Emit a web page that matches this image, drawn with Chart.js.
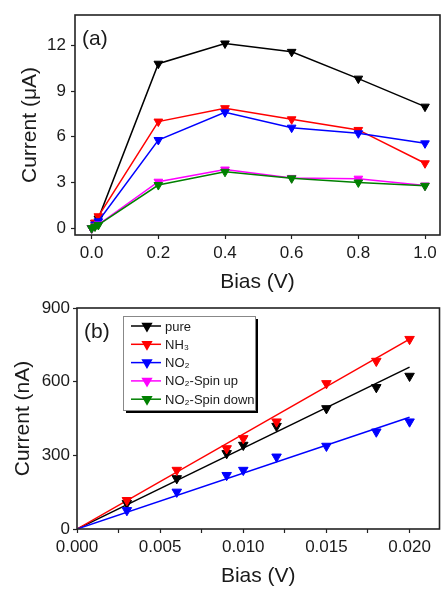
<!DOCTYPE html>
<html>
<head>
<meta charset="utf-8">
<script src="https://cdn.jsdelivr.net/npm/chart.js@4.4.0/dist/chart.umd.min.js"></script>
<style>
  html, body { margin: 0; padding: 0; background: #fff; }
  #wrap { position: relative; width: 442px; height: 590px; overflow: hidden; }
  #chartA { position: absolute; left: 0; top: 0; width: 446px; height: 300px; }
  #chartB { position: absolute; left: 0; top: 290px; width: 446px; height: 300px; }
</style>
</head>
<body>
<div id="wrap">
  <canvas id="chartA" width="446" height="300"></canvas>
  <canvas id="chartB" width="446" height="300"></canvas>
</div>
<script>
// Panel (a): current (uA) vs bias (V)
var biasA = [0, 0.01, 0.02, 0.2, 0.4, 0.6, 0.8, 1.0];
var pureA = [0, 0.34, 0.63, 10.8, 12.13, 11.58, 9.82, 7.98];
var nh3A = [0, 0.37, 0.78, 7.0, 7.88, 7.15, 6.45, 4.26];
var no2A = [0, 0.24, 0.45, 5.79, 7.61, 6.6, 6.23, 5.57];
var upA = [0, 0.13, 0.24, 3.05, 3.85, 3.3, 3.25, 2.8];
var downA = [0, 0.11, 0.21, 2.83, 3.7, 3.27, 3.0, 2.78];
var xTicksA = [0, 0.2, 0.4, 0.6, 0.8, 1.0];
var yTicksA = [0, 3, 6, 9, 12];

// Panel (b): current (nA) vs bias (V), points + linear fits
var biasB = [0.003, 0.006, 0.009, 0.010, 0.012, 0.015, 0.018, 0.020];
var pureB = [105, 206, 308, 342, 419, 491, 577, 623];
var nh3B = [117, 240, 328, 369, 437, 593, 684, 773];
var no2B = [76, 151, 219, 240, 294, 338, 396, 437];
var fitBias = [0, 0.02];
var pureFit = [0, 659];
var nh3Fit = [0, 773];
var no2Fit = [0, 455];
var xTicksB = [0, 0.0025, 0.005, 0.0075, 0.01, 0.0125, 0.015, 0.0175, 0.02];
var yTicksB = [0, 300, 600, 900];

var names = ['pure', 'NH\u2083', 'NO\u2082', 'NO\u2082-Spin up', 'NO\u2082-Spin down'];
var colors = ['#000000', '#ff0000', '#0000ff', '#ff00ff', '#008000'];

var FONT = "'Liberation Sans', Arial, sans-serif";
var TEXT = '#1a1a1a';

function pts(xs, ys) {
  return xs.map(function (x, i) { return { x: x, y: ys[i] }; });
}

function setTicks(values) {
  return function (scale) {
    scale.ticks = values.map(function (v) { return { value: v }; });
  };
}

// plot frame + panel letter
function framePlugin(letter) {
  return {
    id: 'frame',
    afterDraw: function (chart) {
      var a = chart.chartArea;
      var ctx = chart.ctx;
      ctx.save();
      ctx.strokeStyle = '#222';
      ctx.lineWidth = 1.6;
      ctx.strokeRect(a.left, a.top, a.right - a.left, a.bottom - a.top);
      ctx.fillStyle = TEXT;
      ctx.font = '21px ' + FONT;
      ctx.textBaseline = 'middle';
      ctx.textAlign = 'left';
      ctx.fillText(letter, a.left + 7, a.top + 24);
      ctx.restore();
    }
  };
}

function axisX(min, max, ticks, labelFn, titlePad, height) {
  return {
    type: 'linear',
    min: min,
    max: max,
    afterBuildTicks: setTicks(ticks),
    afterFit: function (s) {
      s.height = height;
      s.paddingLeft = 0;
      s.paddingRight = 0;
    },
    border: { display: false },
    grid: { drawOnChartArea: false, drawTicks: true, tickLength: 4, tickColor: '#222', tickWidth: 1.2 },
    ticks: { color: TEXT, font: { family: FONT, size: 17 }, padding: 4, maxRotation: 0, autoSkip: false, callback: labelFn },
    title: { display: true, text: 'Bias (V)', color: TEXT, font: { family: FONT, size: 21 }, padding: { top: 0, bottom: titlePad } }
  };
}

function axisY(min, max, ticks, title, titlePad, width, tickPad) {
  return {
    type: 'linear',
    min: min,
    max: max,
    afterBuildTicks: setTicks(ticks),
    afterFit: function (s) {
      s.width = width;
      s.paddingTop = 0;
      s.paddingBottom = 0;
    },
    border: { display: false },
    grid: { drawOnChartArea: false, drawTicks: true, tickLength: 4, tickColor: '#222', tickWidth: 1.2 },
    ticks: { color: TEXT, font: { family: FONT, size: 17 }, padding: tickPad },
    title: { display: true, text: title, color: TEXT, font: { family: FONT, size: 21 }, padding: { top: titlePad, bottom: 0 } }
  };
}

// ---- Panel (a)
var seriesA = [pureA, nh3A, no2A, upA, downA];
var dsA = seriesA.map(function (ys, i) {
  return {
    label: names[i],
    data: pts(biasA, ys),
    showLine: true,
    borderColor: colors[i],
    backgroundColor: colors[i],
    borderWidth: 1.5,
    pointStyle: 'triangle',
    rotation: 180,
    pointRadius: 5,
    pointBorderWidth: 1,
    order: 5 - i
  };
});

new Chart(document.getElementById('chartA'), {
  type: 'scatter',
  data: { datasets: dsA },
  options: {
    responsive: false,
    animation: false,
    layout: { padding: { top: 15, right: 1, left: 0, bottom: 0 } },
    plugins: { legend: { display: false }, tooltip: { enabled: false } },
    scales: {
      x: axisX(-0.05, 1.045, xTicksA, function (v) { return v.toFixed(1); }, 5, 65),
      y: axisY(-0.45, 14, yTicksA, 'Current (\u03bcA)', 18, 75, 5)
    }
  },
  plugins: [framePlugin('(a)')]
});

// ---- Panel (b)
var seriesB = [pureB, nh3B, no2B];
var fitsB = [pureFit, nh3Fit, no2Fit];
var dsB = [];
seriesB.forEach(function (ys, i) {
  dsB.push({
    label: names[i] + ' fit',
    data: pts(fitBias, fitsB[i]),
    showLine: true,
    borderColor: colors[i],
    borderWidth: 1.5,
    pointRadius: 0,
    order: 6 - i
  });
  dsB.push({
    label: names[i],
    data: pts(biasB, ys),
    showLine: false,
    borderColor: colors[i],
    backgroundColor: colors[i],
    pointStyle: 'triangle',
    rotation: 180,
    pointRadius: 5.5,
    pointBorderWidth: 1,
    order: 3 - i
  });
});

var legendPlugin = {
  id: 'boxLegend',
  afterDraw: function (chart) {
    var ctx = chart.ctx;
    var x = 123, y = 26, w = 132, h = 94;
    ctx.save();
    ctx.fillStyle = '#000';
    ctx.fillRect(x + 3, y + 3, w, h);
    ctx.fillStyle = '#fff';
    ctx.fillRect(x, y, w, h);
    ctx.strokeStyle = '#888';
    ctx.lineWidth = 1;
    ctx.strokeRect(x + 0.5, y + 0.5, w, h);
    ctx.font = '13px ' + FONT;
    ctx.textBaseline = 'middle';
    ctx.textAlign = 'left';
    names.forEach(function (n, i) {
      var ry = y + 10 + i * 18.3;
      ctx.strokeStyle = colors[i];
      ctx.fillStyle = colors[i];
      ctx.lineWidth = 1.5;
      ctx.beginPath();
      ctx.moveTo(x + 8, ry);
      ctx.lineTo(x + 38, ry);
      ctx.stroke();
      Chart.helpers.drawPoint(ctx, { pointStyle: 'triangle', rotation: 180, radius: 5, borderWidth: 1 }, x + 24, ry);
      ctx.fillStyle = TEXT;
      ctx.fillText(n, x + 42, ry + 1);
    });
    ctx.restore();
  }
};

new Chart(document.getElementById('chartB'), {
  type: 'scatter',
  data: { datasets: dsB },
  options: {
    responsive: false,
    animation: false,
    layout: { padding: { top: 18, right: 1, left: 0, bottom: 0 } },
    plugins: { legend: { display: false }, tooltip: { enabled: false } },
    scales: {
      x: axisX(0, 0.0218, xTicksB, function (v) {
        var k = Math.round(v / 0.0025);
        return k % 2 === 0 ? v.toFixed(3) : '';
      }, 1, 61),
      y: axisY(0, 900, yTicksB, 'Current (nA)', 11, 77, 3)
    }
  },
  plugins: [framePlugin('(b)'), legendPlugin]
});
</script>
</body>
</html>
